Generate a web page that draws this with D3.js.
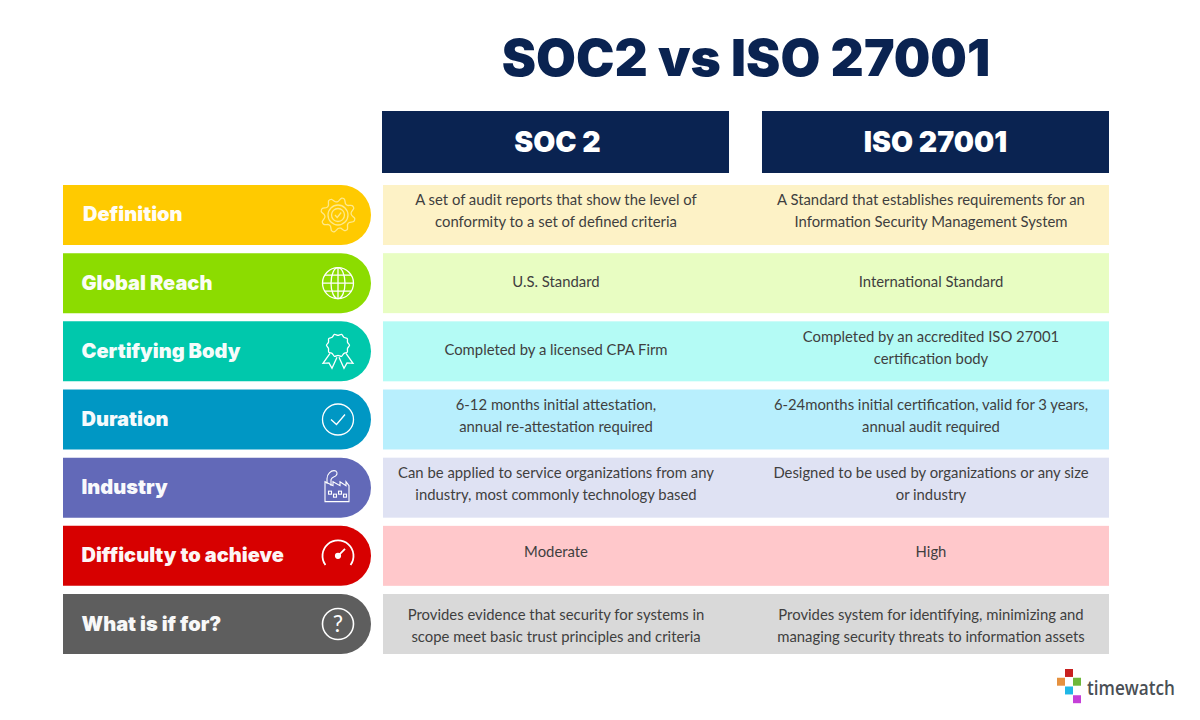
<!DOCTYPE html>
<html><head><meta charset="utf-8">
<script src="https://cdn.jsdelivr.net/npm/d3@7/dist/d3.min.js"></script>
<style>html,body{margin:0;padding:0;background:#fff}svg{display:block}</style>
</head><body><svg id="c" width="1200" height="720"></svg>
<script>
const title = "SOC2 vs ISO 27001";
const columns = ["SOC 2", "ISO 27001"];
const rows = ["Definition","Global Reach","Certifying Body","Duration","Industry","Difficulty to achieve","What is if for?"];
const pillColors = ["#ffca00","#8cdc00","#00c8ac","#0097c4","#6269b8","#d70000","#5e5e5e"];
const cellColors = ["#fdf2c6","#e8fdc2","#b4fbf5","#b8effd","#dfe2f3","#ffc8cb","#d9d9d9"];
const iconNames = ["gear","globe","badge","clock","factory","gauge","question"];
const soc2Text = [
 ["A set of audit reports that show the level of","conformity to a set of defined criteria"],
 ["U.S. Standard"],
 ["Completed by a licensed CPA Firm"],
 ["6-12 months initial attestation,","annual re-attestation required"],
 ["Can be applied to service organizations from any","industry, most commonly technology based"],
 ["Moderate"],
 ["Provides evidence that security for systems in","scope meet basic trust principles and criteria"]];
const isoText = [
 ["A Standard that establishes requirements for an","Information Security Management System"],
 ["International Standard"],
 ["Completed by an accredited ISO 27001","certification body"],
 ["6-24months initial certification, valid for 3 years,","annual audit required"],
 ["Designed to be used by organizations or any size","or industry"],
 ["High"],
 ["Provides system for identifying, minimizing and","managing security threats to information assets"]];
const logoName = "timewatch";
const logoColors = ["#c8201f","#e5913f","#6cb83a","#1fb7e6","#c53fd8"];

const NAVY = "#0a2351", HEAD = "'Inter','Noto Sans',sans-serif", BODY = "Lato,'Open Sans',sans-serif";
const svg = d3.select("#c");
const y = d3.scaleBand().domain(rows).range([185,654]).paddingInner(0.12).paddingOuter(0);
const x = d3.scaleBand().domain(columns).range([382,1109]).paddingInner(0.0868).paddingOuter(0);
const textColumns = [soc2Text, isoText];
const cellCx = [556, 931];
const lineShift = [[-4,-2,-2,-4,-4,-4,1],[-4,-2,-4,-4,-4,-4,1]];

svg.append("text").text(title).attr("x",746).attr("y",76)
  .attr("text-anchor","middle").attr("fill",NAVY)
  .style("font",`900 51.5px ${HEAD}`);

svg.selectAll("rect.head").data(columns).join("rect").attr("class","head")
  .attr("x",d=>x(d)).attr("y",111).attr("width",x.bandwidth()).attr("height",62).attr("fill",NAVY);
svg.selectAll("text.head").data(columns).join("text").attr("class","head").text(d=>d)
  .attr("x",(d,i)=>x(d)+x.bandwidth()/2+(i===0?2:0)).attr("y",152)
  .attr("text-anchor","middle").attr("fill","#fff").style("font",`900 28.5px ${HEAD}`);

const pill = (x0,x1,y0,h)=>{const r=h/2;return `M${x0},${y0}H${x1-r}A${r},${r} 0 0 1 ${x1-r},${y0+h}H${x0}Z`;};
const g = svg.selectAll("g.row").data(rows).join("g").attr("class","row");
g.append("rect").attr("x",383).attr("y",d=>y(d)).attr("width",726).attr("height",y.bandwidth())
  .attr("fill",(d,i)=>cellColors[i]);
g.append("path").attr("d",d=>pill(63,371,y(d),y.bandwidth())).attr("fill",(d,i)=>pillColors[i]);
g.append("text").text(d=>d).attr("x",(d,i)=>i===0?83:81.5).attr("y",d=>y(d)+y.bandwidth()/2+6.5)
  .attr("fill","#fff").style("font",`900 20px ${HEAD}`).attr("opacity",.96);

textColumns.forEach((col,ci)=>{
  col.forEach((lines,ri)=>{
    const cy = y(rows[ri])+y.bandwidth()/2+lineShift[ci][ri];
    lines.forEach((t,li)=>{
      svg.append("text").text(t).attr("x",cellCx[ci])
        .attr("y",cy+(li-(lines.length-1)/2)*22+5.5)
        .attr("text-anchor","middle").attr("fill","#3f3f3f")
        .style("font",`400 14.85px ${BODY}`);
    });
  });
});

/* icons */
const icons = {
 gear(s){
  const line=d3.lineRadial().curve(d3.curveCardinalClosed.tension(.3));
  const pts=d3.range(32).map(k=>{const a=k/32*2*Math.PI;const p=k%4;return [a,(p===1||p===2)?17:13.5];});
  s.append("path").attr("d",line(pts));
  s.append("circle").attr("r",10);
  s.append("circle").attr("r",6.5);
  s.append("path").attr("d","M-3,0L-.8,2.5L3.2,-2.5");
 },
 globe(s){
  s.append("circle").attr("r",15.5);
  s.append("ellipse").attr("rx",7).attr("ry",15.5);
  s.append("path").attr("d","M0,-15.5V15.5M-15.5,0H15.5M-13,-8H13M-13,8H13");
 },
 badge(s){
  const line=d3.lineRadial().curve(d3.curveCardinalClosed.tension(.2));
  const pts=d3.range(20).map(k=>[k/20*2*Math.PI,k%2?11.5:10]);
  s.append("path").attr("transform","translate(0,-6)").attr("d",line(pts));
  s.append("path").attr("d","M-8,2L-15,12L-9,11.5L-6,17L-1,6M8,2L15,12L9,11.5L6,17L1,6");
 },
 clock(s){
  s.append("circle").attr("r",15.5);
  s.append("path").attr("d","M-7,0L-1.5,5L7,-5");
 },
 factory(s){
  s.attr("stroke-width",1.1);
  s.append("path").attr("d","M-13,15V-5L-5,-1V-5L2,-1V-5L8,-1V-5L11,-1V15Z");
  s.append("path").attr("d","M-11,-3V-8C-11,-13,-7,-16,-4,-16C-1,-16,0,-13,-2,-11C-4,-9,-6,-10,-7,-7V-1");
  [[-8,6],[-3,9],[2,6],[7,9]].forEach(p=>s.append("rect").attr("x",p[0]-1.5).attr("y",p[1]-1.5).attr("width",3).attr("height",3));
 },
 gauge(s){
  s.attr("stroke-width",1.8);
  s.append("path").attr("d",d3.arc().innerRadius(15.5).outerRadius(15.5).startAngle(-2.2).endAngle(2.2)());
  s.append("path").attr("d","M0,0L7,-7");
  s.append("circle").attr("r",2.2).attr("fill","#fff");
 },
 question(s){
  s.attr("stroke-width",1.6);
  s.append("circle").attr("r",15.5);
  s.append("text").text("?").attr("y",8).attr("text-anchor","middle").attr("stroke","none").attr("fill","#fff")
    .style("font",`400 23px ${BODY}`);
 }
};
rows.forEach((r,i)=>{
  const ic = svg.append("g").attr("transform",`translate(338,${y(r)+y.bandwidth()/2+(i===4?-1:0)})`)
    .attr("fill","none").attr("stroke",i===0?"#ffe98a":"#fff").attr("stroke-width",1.3);
  icons[iconNames[i]](ic);
});

/* logo */
const logoCells = [[1,0],[0,1],[2,1],[1,2],[2,3]];
const lx = d3.scaleBand().domain([0,1,2]).range([1057,1081]).padding(0);
const ly = d3.scaleBand().domain([0,1,2,3]).range([669,704]).padding(0);
svg.selectAll("rect.logo").data(logoCells).join("rect").attr("class","logo")
  .attr("x",d=>lx(d[0])).attr("y",d=>ly(d[1])).attr("width",lx.bandwidth()).attr("height",ly.bandwidth()-.8)
  .attr("fill",(d,i)=>logoColors[i]);
svg.append("text").text(logoName).attr("x",1087).attr("y",695).attr("fill","#4a4f55")
  .attr("textLength",88).attr("lengthAdjust","spacingAndGlyphs")
  .style("font",`600 19px 'Open Sans',sans-serif`);
</script></body></html>
